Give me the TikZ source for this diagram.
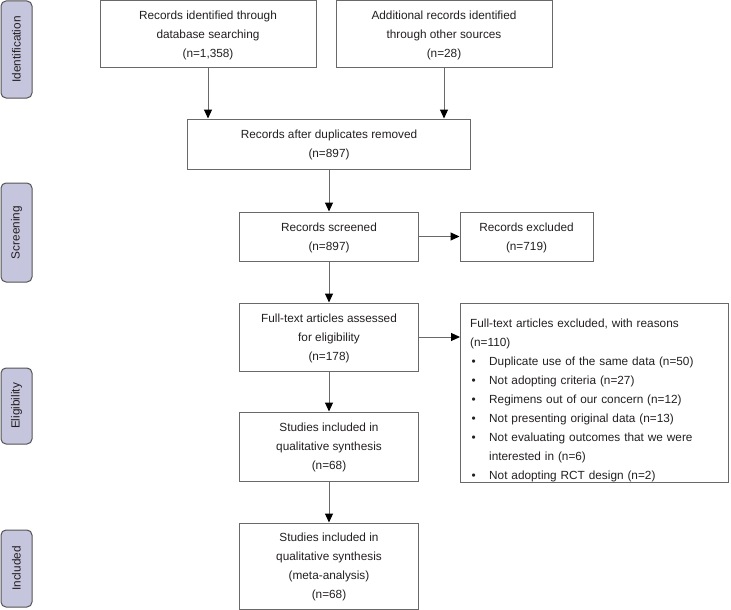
\documentclass[tikz,border=0pt]{standalone}
\usepackage{fontspec}
\setmainfont{Liberation Sans}
\usetikzlibrary{arrows.meta, positioning}
\definecolor{phasefill}{RGB}{197,197,221}
\definecolor{linegray}{RGB}{105,105,105}
\definecolor{textgray}{RGB}{35,31,32}
\newcommand{\exitem}{\makebox[19pt][l]{\hspace{1.5pt}\textbullet}} % bullet of the exclusion list
\tikzset{
	every node/.style={font=\fontsize{11.8}{19}\selectfont, text=textgray}, % sets the font of all texts
	box/.style={draw=linegray, line width=1pt, align=center, inner sep=0pt,
		text depth=-4pt}, % a step of the flow, text set a little lower
	phase/.style={draw=linegray!80!black, fill=phasefill, line width=1pt, rounded corners=5pt,
		rotate=90, minimum height=31pt, inner sep=0pt}, % the labels on the left
	arrow/.style={draw=linegray, line width=1pt, -{Triangle[length=9pt,width=8pt,fill=black,color=black]}}, % makes the edges directed
}
\begin{document}
\begin{tikzpicture}[x=1pt,y=-1pt]
	\useasboundingbox (0,0) rectangle (731,610);
	% phases
	\node[phase, minimum width=97pt] (pident) at (16.5,49.5) {Identification};
	\node[phase, minimum width=99pt] (pscreen) at (16.5,232.5) {Screening};
	\node[phase, minimum width=76pt] (pelig) at (16.5,406) {Eligibility};
	\node[phase, minimum width=77pt] (pincl) at (16.5,568.5) {Included};
	% steps
	\node[box, minimum width=216pt, minimum height=67pt] (ident) at (208,34.5)
		{Records identified through\\database searching\\(n=1,358)};
	\node[box, minimum width=216pt, minimum height=67pt] (other) at (444,34.5)
		{Additional records identified\\through other sources\\(n=28)};
	\node[box, minimum width=283pt, minimum height=50pt] (dedup) at (329,144)
		{Records after duplicates removed\\(n=897)};
	\node[box, minimum width=179pt, minimum height=49pt] (screen) at (329,236.5)
		{Records screened\\(n=897)};
	\node[box, minimum width=133pt, minimum height=49pt] (excl) at (526.5,236.5)
		{Records excluded\\(n=719)};
	\node[box, minimum width=179pt, minimum height=68pt] (full) at (329,337)
		{Full-text articles assessed\\for eligibility\\(n=178)};
	\node[box, minimum width=268pt, minimum height=179pt, anchor=north west] (fullexcl) at (460,303) {};
	\node[anchor=north west, text width=255pt, align=left, inner sep=0pt] (reasons)
		at ([shift={(10,15.5)}]fullexcl.north west)
		{Full-text articles excluded, with reasons\\
		(n=110)\\
		\exitem Duplicate use of the same data (n=50)\\
		\exitem Not adopting criteria (n=27)\\
		\exitem Regimens out of our concern (n=12)\\
		\exitem Not presenting original data (n=13)\\
		\exitem Not evaluating outcomes that we were\\
		\hspace*{19pt}interested in (n=6)\\
		\exitem Not adopting RCT design (n=2)};
	\node[box, minimum width=179pt, minimum height=69pt] (qual) at (329,446.5)
		{Studies included in\\qualitative synthesis\\(n=68)};
	\node[box, minimum width=179pt, minimum height=86pt] (meta) at (329,566)
		{Studies included in\\qualitative synthesis\\(meta-analysis)\\(n=68)};
	% connectors
	\draw[arrow] (ident.south) -- (ident.south |- dedup.north);
	\draw[arrow] (other.south) -- (other.south |- dedup.north);
	\draw[arrow] (dedup) -- (screen);
	\draw[arrow] (screen) -- (excl);
	\draw[arrow] (screen) -- (full);
	\draw[arrow] (full.east) -- (full.east -| fullexcl.west);
	\draw[arrow] (full) -- (qual);
	\draw[arrow] (qual) -- (meta);
\end{tikzpicture}
\end{document}
